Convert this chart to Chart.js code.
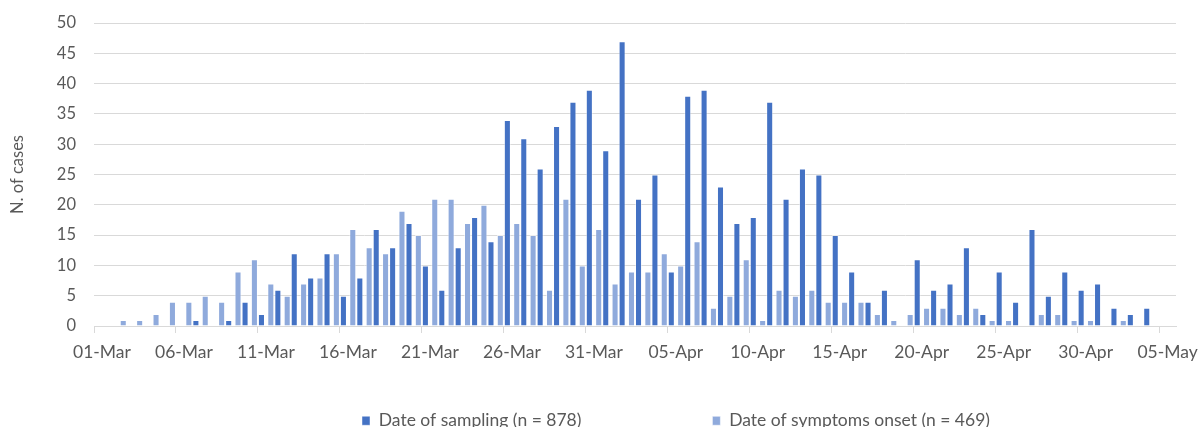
<!DOCTYPE html>
<html>
<head>
<meta charset="utf-8">
<script src="https://cdn.jsdelivr.net/npm/chart.js@4.4.1/dist/chart.umd.min.js"></script>
<style>
  html, body { margin: 0; padding: 0; background: #ffffff; }
  #wrap { width: 1200px; height: 427px; position: relative; }
</style>
</head>
<body>
<div id="wrap"><canvas id="c"></canvas></div>
<script>
// Categories: one per day, 01-Mar to 06-May
const dates = [
  '01-Mar','02-Mar','03-Mar','04-Mar','05-Mar','06-Mar','07-Mar','08-Mar','09-Mar','10-Mar',
  '11-Mar','12-Mar','13-Mar','14-Mar','15-Mar','16-Mar','17-Mar','18-Mar','19-Mar','20-Mar',
  '21-Mar','22-Mar','23-Mar','24-Mar','25-Mar','26-Mar','27-Mar','28-Mar','29-Mar','30-Mar',
  '31-Mar','01-Apr','02-Apr','03-Apr','04-Apr','05-Apr','06-Apr','07-Apr','08-Apr','09-Apr',
  '10-Apr','11-Apr','12-Apr','13-Apr','14-Apr','15-Apr','16-Apr','17-Apr','18-Apr','19-Apr',
  '20-Apr','21-Apr','22-Apr','23-Apr','24-Apr','25-Apr','26-Apr','27-Apr','28-Apr','29-Apr',
  '30-Apr','01-May','02-May','03-May','04-May','05-May','06-May'
];

// Date of symptoms onset (n = 469)
const symptomsOnset = [
  0, 0, 1, 1, 2, 4, 4, 5, 4, 9,
  11, 7, 5, 7, 8, 12, 16, 13, 12, 19,
  15, 21, 21, 17, 20, 15, 17, 15, 6, 21,
  10, 16, 7, 9, 9, 12, 10, 14, 3, 5,
  11, 1, 6, 5, 6, 4, 4, 4, 2, 1,
  2, 3, 3, 2, 3, 1, 1, 0, 2, 2,
  1, 1, 0, 1, 0, 0, 0
];

// Date of sampling (n = 878)
const sampling = [
  0, 0, 0, 0, 0, 0, 1, 0, 1, 4,
  2, 6, 12, 8, 12, 5, 8, 16, 13, 17,
  10, 6, 13, 18, 14, 34, 31, 26, 33, 37,
  39, 29, 47, 21, 25, 9, 38, 39, 23, 17,
  18, 37, 21, 26, 25, 15, 9, 4, 6, 0,
  11, 6, 7, 13, 2, 9, 4, 16, 5, 9,
  6, 7, 3, 2, 3, 0, 0
];

const seriesNames = ['Date of symptoms onset (n = 469)', 'Date of sampling (n = 878)'];
const yMin = 0, yMax = 50, yStep = 5;
const labelEvery = 5;
const yTitle = 'N. of cases';

Chart.defaults.font.family = 'Lato, "Open Sans", sans-serif';
Chart.defaults.font.size = 17;
Chart.defaults.color = '#595959';

const LEGEND_H = 64;
const legendPlace = {
  id: 'legendPlace',
  beforeInit(chart) {
    const lg = chart.legend;
    const fit0 = lg.fit.bind(lg);
    lg.fit = function () { fit0(); this.height = LEGEND_H; };
    const draw0 = lg.draw.bind(lg);
    lg.draw = function () {
      const hb = this.legendHitBoxes && this.legendHitBoxes[0];
      if (!hb) { draw0(); return; }
      const ctx = this.ctx;
      const b = this.bottom;
      this.bottom = b + 300;
      ctx.save();
      ctx.translate(362 - hb.left, 412 - hb.top);
      draw0();
      ctx.restore();
      this.bottom = b;
    };
  }
};

new Chart(document.getElementById('c'), {
  type: 'bar',
  data: {
    labels: dates,
    datasets: [
      {
        label: seriesNames[0],
        data: symptomsOnset,
        backgroundColor: '#8FAADC',
        borderColor: 'rgba(255,255,255,0.55)',
        borderWidth: 1,
        categoryPercentage: 0.86,
        barPercentage: 1.0
      },
      {
        label: seriesNames[1],
        data: sampling,
        backgroundColor: '#4472C4',
        borderColor: 'rgba(255,255,255,0.45)',
        borderWidth: 1,
        categoryPercentage: 0.86,
        barPercentage: 1.0
      }
    ]
  },
  options: {
    responsive: true,
    maintainAspectRatio: false,
    animation: false,
    layout: { padding: { top: 23, right: 24, bottom: 0, left: 0 } },
    plugins: {
      tooltip: { enabled: false },
      legend: {
        position: 'bottom',
        reverse: true,
        labels: {
          boxWidth: 8,
          boxHeight: 9,
          padding: 131,
          color: '#595959',
          font: { size: 17.5 }
        }
      }
    },
    scales: {
      x: {
        offset: false,
        grid: {
          offset: false,
          drawOnChartArea: false,
          drawTicks: true,
          tickLength: 7,
          color: '#d9d9d9',
          lineWidth: 1
        },
        border: { display: true, color: '#d9d9d9', width: 1 },
        ticks: {
          autoSkip: false,
          maxRotation: 0,
          minRotation: 0,
          padding: 9,
          labelOffset: 8,
          color: '#595959',
          font: { size: 17.5 },
          callback: function (val, index) {
            return index % labelEvery === 0 ? this.getLabelForValue(val) : null;
          }
        },
        afterFit(scale) { scale.height = 37; }
      },
      y: {
        min: yMin,
        max: yMax,
        grid: { color: '#d9d9d9', lineWidth: 1, drawTicks: true, tickLength: 18, tickColor: 'rgba(0,0,0,0)' },
        border: { display: false },
        ticks: { stepSize: yStep, padding: 0, color: '#595959', font: { size: 16.5 } },
        title: {
          display: true,
          text: yTitle,
          color: '#595959',
          font: { size: 16.5 },
          padding: { top: 8, bottom: 0 }
        },
        afterFit(scale) { scale.width = 94; }
      }
    }
  },
  plugins: [legendPlace]
});
</script>
</body>
</html>
